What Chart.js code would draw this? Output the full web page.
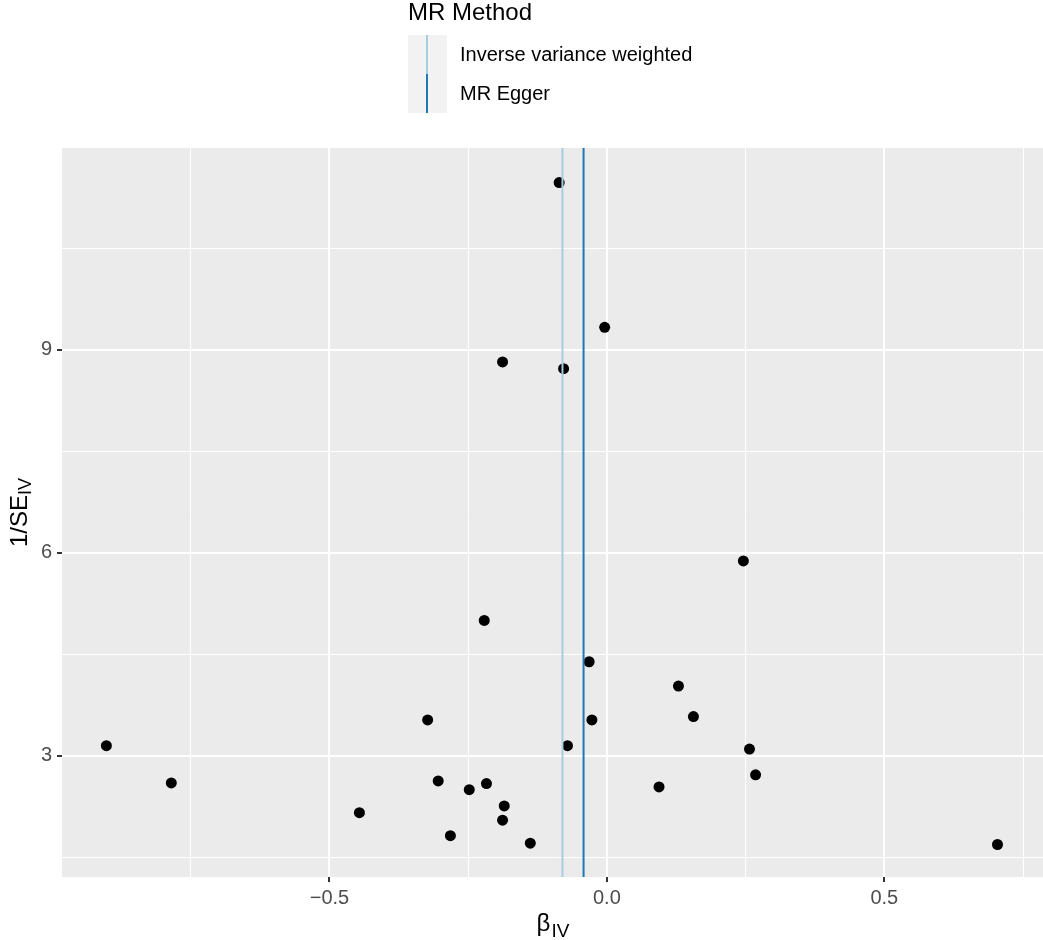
<!DOCTYPE html>
<html>
<head>
<meta charset="utf-8">
<script src="https://cdn.jsdelivr.net/npm/chart.js@4/dist/chart.umd.min.js"></script>
<style>
  body { margin: 0; background: #fff; }
  canvas { display: block; }
</style>
</head>
<body>
<canvas id="funnel" width="1043" height="940"></canvas>
<script>
// funnel plot data
const betaIV = [-0.902, -0.785, -0.446, -0.323, -0.304, -0.282, -0.248, -0.217, -0.221, -0.188, -0.185, -0.188, -0.138,
  -0.086, -0.078, -0.071, -0.032, -0.027, -0.004, 0.094, 0.129, 0.156, 0.246, 0.257, 0.268, 0.704];
const invSE = [3.15, 2.60, 2.16, 3.53, 2.63, 1.82, 2.50, 2.59, 5.00, 8.82, 2.26, 2.05, 1.71,
  11.47, 8.72, 3.15, 4.39, 3.53, 9.33, 2.54, 4.03, 3.58, 5.88, 3.10, 2.72, 1.69];

const methods = ["Inverse variance weighted", "MR Egger"];
const methodEstimates = [-0.080, -0.042];
const methodColors = ["#a6cee3", "#1f78b4"];

const xMajor = [-0.5, 0, 0.5];
const xTickLabels = ["\u22120.5", "0.0", "0.5"];
const xMinor = [-0.75, -0.25, 0.25, 0.75];
const yMajor = [3, 6, 9];
const yTickLabels = ["3", "6", "9"];
const yMinor = [1.5, 4.5, 7.5, 10.5];

const xRange = [-0.982, 0.786];
const yRange = [1.21, 11.98];

const FONT = "'Liberation Sans', Arial, sans-serif";

function allTicks(major, minor) {
  return major.concat(minor).sort((a, b) => a - b);
}
function isMajor(list, v) {
  return list.some(m => Math.abs(m - v) < 1e-9);
}

const points = betaIV.map((b, i) => ({ x: b, y: invSE[i] }));

const lineSets = methods.map((m, i) => ({
  label: m,
  data: [{ x: methodEstimates[i], y: yRange[0] }, { x: methodEstimates[i], y: yRange[1] }],
  showLine: true,
  borderColor: methodColors[i],
  borderWidth: 2,
  pointRadius: 0,
  order: 0
}));

const panelBg = {
  id: "panelBg",
  beforeDraw(chart) {
    const { ctx, chartArea: a } = chart;
    ctx.save();
    ctx.fillStyle = "#ffffff";
    ctx.fillRect(0, 0, chart.width, chart.height);
    ctx.fillStyle = "#ebebeb";
    ctx.fillRect(a.left, a.top, a.right - a.left, a.bottom - a.top);
    ctx.restore();
  }
};

// legend + axis titles with subscripts
const extras = {
  id: "extras",
  afterDraw(chart) {
    const { ctx, chartArea: a } = chart;
    ctx.save();
    ctx.fillStyle = "#000";
    ctx.textAlign = "left";
    ctx.textBaseline = "alphabetic";
    ctx.font = "24px " + FONT;
    ctx.fillText("MR Method", 408, 20);

    methods.forEach((m, i) => {
      const top = 35 + i * 39;
      ctx.fillStyle = "#f2f2f2";
      ctx.fillRect(408, top, 39, 39);
      ctx.strokeStyle = methodColors[i];
      ctx.lineWidth = 2;
      ctx.beginPath();
      ctx.moveTo(427, top);
      ctx.lineTo(427, top + 39);
      ctx.stroke();
      ctx.fillStyle = "#000";
      ctx.font = "20px " + FONT;
      ctx.textBaseline = "middle";
      ctx.fillText(m, 460, top + 20);
    });

    // x title: beta_IV
    ctx.textBaseline = "alphabetic";
    ctx.font = "24px " + FONT;
    const wb = ctx.measureText("\u03b2").width;
    ctx.font = "19px " + FONT;
    const ws = ctx.measureText("IV").width;
    const cx = (a.left + a.right) / 2;
    let x0 = cx - (wb + ws) / 2;
    ctx.font = "24px " + FONT;
    ctx.fillText("\u03b2", x0, 931);
    ctx.font = "19px " + FONT;
    ctx.fillText("IV", x0 + wb + 1, 937);

    // y title: 1/SE_IV
    ctx.translate(27, (a.top + a.bottom) / 2);
    ctx.rotate(-Math.PI / 2);
    ctx.font = "24px " + FONT;
    const w1 = ctx.measureText("1/SE").width;
    ctx.font = "18px " + FONT;
    const w2 = ctx.measureText("IV").width;
    const y0 = -(w1 + w2) / 2;
    ctx.font = "24px " + FONT;
    ctx.fillText("1/SE", y0, 0);
    ctx.font = "18px " + FONT;
    ctx.fillText("IV", y0 + w1, 4);
    ctx.restore();
  }
};

new Chart(document.getElementById("funnel"), {
  type: "scatter",
  data: {
    datasets: lineSets.concat([{
      label: "SNPs",
      data: points,
      backgroundColor: "#000",
      borderWidth: 0,
      pointRadius: 5.5,
      order: 1
    }])
  },
  options: {
    responsive: false,
    animation: false,
    layout: { autoPadding: false, padding: { top: 148, left: 0, right: 0, bottom: 0 } },
    plugins: {
      legend: { display: false },
      tooltip: { enabled: false }
    },
    scales: {
      x: {
        type: "linear",
        min: xRange[0],
        max: xRange[1],
        afterBuildTicks: s => { s.ticks = allTicks(xMajor, xMinor).map(v => ({ value: v })); },
        afterFit: s => { s.height = 63; },
        border: { display: false },
        grid: {
          color: "#ffffff",
          lineWidth: c => isMajor(xMajor, c.tick.value) ? 2 : 1,
          tickColor: c => isMajor(xMajor, c.tick.value) ? "#333333" : "rgba(0,0,0,0)",
          tickLength: 5,
          tickWidth: 2
        },
        ticks: {
          autoSkip: false,
          maxRotation: 0,
          padding: 4,
          color: "#4d4d4d",
          font: { family: FONT, size: 20 },
          callback: v => {
            const i = xMajor.findIndex(m => Math.abs(m - v) < 1e-9);
            return i >= 0 ? xTickLabels[i] : "";
          }
        }
      },
      y: {
        type: "linear",
        min: yRange[0],
        max: yRange[1],
        afterBuildTicks: s => { s.ticks = allTicks(yMajor, yMinor).map(v => ({ value: v })); },
        afterFit: s => { s.width = 62; },
        border: { display: false },
        grid: {
          color: "#ffffff",
          lineWidth: c => isMajor(yMajor, c.tick.value) ? 2 : 1,
          tickColor: c => isMajor(yMajor, c.tick.value) ? "#333333" : "rgba(0,0,0,0)",
          tickLength: 5,
          tickWidth: 2
        },
        ticks: {
          autoSkip: false,
          padding: 5,
          color: "#4d4d4d",
          font: { family: FONT, size: 20 },
          callback: v => {
            const i = yMajor.findIndex(m => Math.abs(m - v) < 1e-9);
            return i >= 0 ? yTickLabels[i] : "";
          }
        }
      }
    }
  },
  plugins: [panelBg, extras]
});
</script>
</body>
</html>
